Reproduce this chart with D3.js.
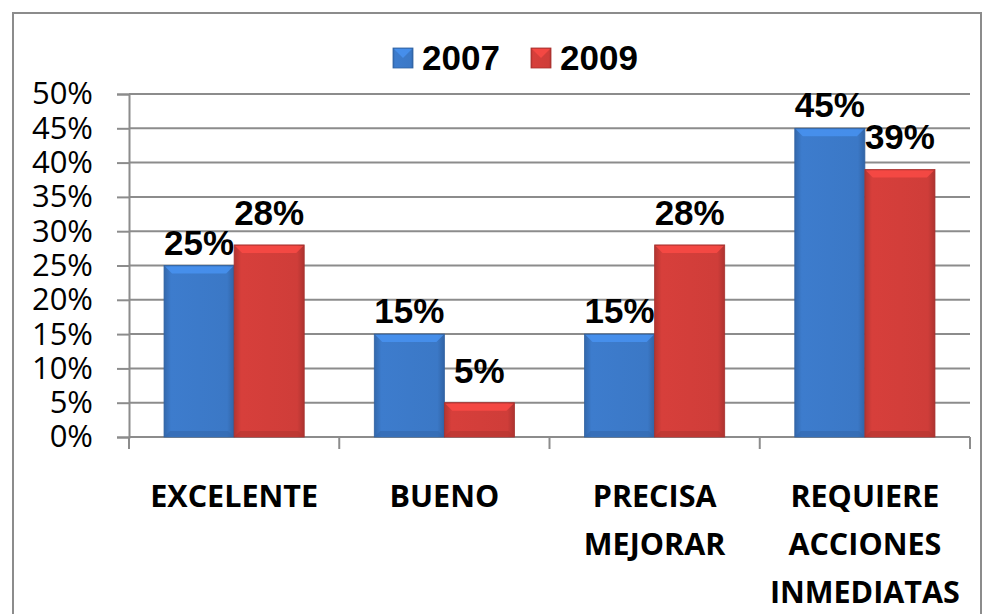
<!DOCTYPE html>
<html>
<head>
<meta charset="utf-8">
<script src="https://cdn.jsdelivr.net/npm/d3@7"></script>
<style>
  body { margin: 0; background: #fff; }
  svg { display: block; }
</style>
</head>
<body>
<div id="chart"></div>
<script>
var width = 994;
var height = 614;

// data
const categories = [["EXCELENTE"], ["BUENO"], ["PRECISA", "MEJORAR"], ["REQUIERE", "ACCIONES", "INMEDIATAS"]];
const seriesNames = ["2007", "2009"];
const values2007 = [25, 15, 15, 45];
const values2009 = [28, 5, 28, 39];
const yTicks = [0, 5, 10, 15, 20, 25, 30, 35, 40, 45, 50];
const colors = ["#3b78c6", "#cf3d39"];
const labelGap = [11, 20]; // label offset above bar top, per series

var margin = {left: 129, right: 24, top: 94, bottom: 177};

let svg = d3.select("#chart")
  .append("svg")
  .attr("width", width)
  .attr("height", height);

// bar gradients
var defs = svg.append("defs");
colors.forEach((c, i) => {
  var g = defs.append("linearGradient").attr("id", "grad" + i)
    .attr("x1", 0).attr("x2", 1).attr("y1", 0).attr("y2", 0);
  g.append("stop").attr("offset", "0%").attr("stop-color", d3.color(c).darker(0.4));
  g.append("stop").attr("offset", "10%").attr("stop-color", d3.color(c).brighter(0.1));
  g.append("stop").attr("offset", "90%").attr("stop-color", c);
  g.append("stop").attr("offset", "100%").attr("stop-color", d3.color(c).darker(0.5));
});

// outer chart border
svg.append("rect")
  .attr("x", 13).attr("y", 13)
  .attr("width", 968).attr("height", 640)
  .attr("fill", "none")
  .attr("stroke", "#8c8c8c")
  .attr("stroke-width", 2);

var x0 = d3.scaleBand()
  .domain(d3.range(categories.length))
  .range([margin.left, width - margin.right])
  .paddingInner(0).paddingOuter(0);

var x1 = d3.scaleBand()
  .domain(seriesNames)
  .range([0, x0.bandwidth()])
  .paddingInner(0)
  .paddingOuter(0.5);

var y = d3.scaleLinear()
  .domain([0, 50])
  .range([height - margin.bottom, margin.top]);

// gridlines + y axis
var yAxis = svg.append("g")
  .attr("transform", `translate(${margin.left},0)`)
  .call(d3.axisLeft(y).tickValues(yTicks).tickFormat(d => d + "%")
    .tickSize(12).tickPadding(24));
yAxis.select(".domain").attr("stroke", "#8c8c8c").attr("stroke-width", 2);
yAxis.selectAll(".tick line").attr("stroke", "#8c8c8c").attr("stroke-width", 2);
yAxis.selectAll(".tick text")
  .attr("fill", "#000")
  .style("font-family", "'Open Sans', sans-serif")
  .style("font-size", "31px");

svg.append("g").selectAll("line")
  .data(yTicks.filter(d => d > 0))
  .enter().append("line")
  .attr("x1", margin.left).attr("x2", width - margin.right)
  .attr("y1", d => y(d)).attr("y2", d => y(d))
  .attr("stroke", "#8c8c8c").attr("stroke-width", 2);

// x axis
var xAxisY = y(0);
svg.append("line")
  .attr("x1", margin.left).attr("x2", width - margin.right)
  .attr("y1", xAxisY).attr("y2", xAxisY)
  .attr("stroke", "#8c8c8c").attr("stroke-width", 2);
svg.append("g").selectAll("line")
  .data(d3.range(categories.length + 1))
  .enter().append("line")
  .attr("x1", d => margin.left + d * x0.bandwidth())
  .attr("x2", d => margin.left + d * x0.bandwidth())
  .attr("y1", xAxisY).attr("y2", xAxisY + 12)
  .attr("stroke", "#8c8c8c").attr("stroke-width", 2);

// category labels
var catLabels = svg.append("g").selectAll("text")
  .data(categories)
  .enter().append("text")
  .attr("x", (d, i) => x0(i) + x0.bandwidth() / 2)
  .attr("y", 507)
  .attr("text-anchor", "middle")
  .style("font-family", "'Open Sans', sans-serif")
  .style("font-weight", "bold")
  .style("font-size", "30.5px");
catLabels.selectAll("tspan")
  .data(d => d)
  .enter().append("tspan")
  .attr("x", function() { return d3.select(this.parentNode).attr("x"); })
  .attr("dy", (d, i) => i === 0 ? 0 : 48)
  .text(d => d);

// bars
var series = [values2007, values2009];
var groups = svg.append("g").selectAll("g")
  .data(series)
  .enter().append("g");

groups.each(function(vals, si) {
  var g = d3.select(this);
  var bars = g.selectAll("g.bar")
    .data(vals)
    .enter().append("g").attr("class", "bar");
  var bx = (d, i) => x0(i) + x1(seriesNames[si]);
  var bw = x1.bandwidth();
  bars.append("rect")
    .attr("x", bx)
    .attr("y", d => y(d))
    .attr("width", bw)
    .attr("height", d => y(0) - y(d))
    .attr("fill", "url(#grad" + si + ")")
    .attr("stroke", d3.color(colors[si]).darker(0.6))
    .attr("stroke-width", 0.8);
  // top bevel
  bars.append("path")
    .attr("d", (d, i) => {
      var x = bx(d, i), t = y(d);
      return `M${x + 1},${t + 1}H${x + bw - 1}L${x + bw - 8},${t + 8}H${x + 8}Z`;
    })
    .attr("fill", d3.color(colors[si]).brighter(0.6))
    .attr("opacity", 0.75);
  // bottom bevel
  bars.append("path")
    .attr("d", (d, i) => {
      var x = bx(d, i), b = y(0);
      return `M${x + 1},${b - 1}H${x + bw - 1}L${x + bw - 6},${b - 6}H${x + 6}Z`;
    })
    .attr("fill", d3.color(colors[si]).darker(0.4))
    .attr("opacity", 0.6);
  // value labels
  bars.append("text")
    .attr("x", (d, i) => bx(d, i) + bw / 2)
    .attr("y", d => y(d) - labelGap[si])
    .attr("text-anchor", "middle")
    .style("font-family", "'Liberation Sans', Arial, sans-serif")
    .style("font-weight", "bold")
    .style("font-size", "35px")
    .text(d => d + "%");
});

// legend
var legend = svg.append("g");
var legendX = [393, 531];
seriesNames.forEach((s, i) => {
  legend.append("rect")
    .attr("x", legendX[i]).attr("y", 48)
    .attr("width", 20).attr("height", 20)
    .attr("fill", "url(#grad" + i + ")")
    .attr("stroke", d3.color(colors[i]).darker(0.6))
    .attr("stroke-width", 0.8);
  legend.append("path")
    .attr("d", `M${legendX[i] + 1},49H${legendX[i] + 19}L${legendX[i] + 10},58Z`)
    .attr("fill", d3.color(colors[i]).brighter(0.6))
    .attr("opacity", 0.75);
  legend.append("text")
    .attr("x", legendX[i] + 29).attr("y", 70)
    .style("font-family", "'Liberation Sans', Arial, sans-serif")
    .style("font-weight", "bold")
    .style("font-size", "35px")
    .text(s);
});
</script>
</body>
</html>
